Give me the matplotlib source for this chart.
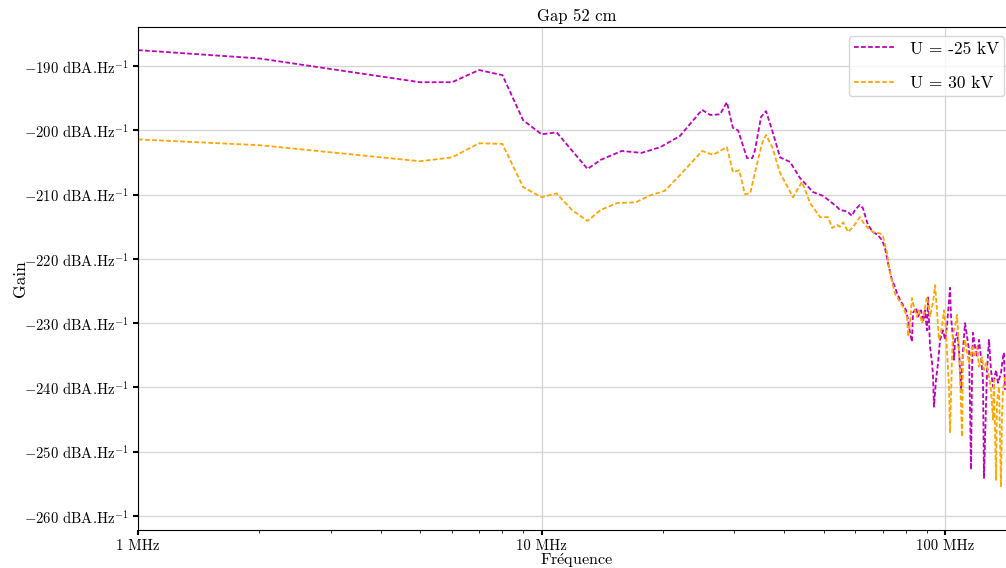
import matplotlib
matplotlib.use("Agg")
import matplotlib.pyplot as plt
from matplotlib.ticker import FixedLocator, FuncFormatter, LogLocator, NullFormatter

plt.rcParams["font.family"] = "serif"
plt.rcParams["font.serif"] = ["cmr10"]
plt.rcParams["mathtext.fontset"] = "cm"
plt.rcParams["axes.unicode_minus"] = False
plt.rcParams["axes.formatter.use_mathtext"] = True
plt.rcParams["font.size"] = 10

# frequency in MHz, gain in dBA/Hz
freq_neg = [1.0, 2.0, 5.0, 6.0, 7.0, 8.0, 9.0, 10.0, 10.9, 13.0, 14.0, 15.8, 17.7, 19.7,
            22.0, 25.0, 26.2, 27.7, 28.8, 29.8, 30.7, 32.3, 33.3, 33.8, 35.0, 36.0, 37.3,
            39.0, 41.3, 43.7, 47.1, 49.9, 54.0, 54.9, 57.2, 58.8, 59.8, 61.5, 62.6, 64.4,
            66.3, 68.2, 69.8, 71.0, 72.2, 73.9, 75.2, 76.0, 77.4, 78.7, 80.1, 81.0, 81.9,
            82.8, 83.3, 84.8, 85.7, 87.2, 88.2, 89.2, 90.2, 90.8, 91.8, 92.9, 93.4, 93.9,
            95.0, 96.1, 97.2, 98.9, 100.0, 101.1, 102.9, 103.5, 104.7, 105.3, 105.9, 107.1,
            108.3, 109.6, 110.8, 112.1, 113.4, 114.7, 116.0, 116.7, 117.3, 118.7, 120.0,
            121.4, 122.8, 124.2, 124.9, 126.4, 127.1, 128.5, 130.0, 131.5, 133.8, 135.3,
            137.6, 139.2, 140.0, 140.8]
gain_neg = [-187.5, -188.8, -192.5, -192.5, -190.6, -191.4, -198.4, -200.6, -200.3, -206.0,
            -204.6, -203.2, -203.5, -202.6, -200.9, -196.8, -197.6, -197.5, -195.6, -199.6,
            -200.0, -204.3, -204.3, -203.1, -197.9, -197.0, -200.0, -204.2, -204.9, -207.4,
            -209.6, -210.2, -211.9, -212.4, -212.6, -213.3, -212.4, -211.6, -212.1, -214.7,
            -215.8, -216.3, -217.1, -218.3, -220.6, -223.3, -224.4, -225.3, -226.4, -227.2,
            -228.0, -229.5, -231.5, -232.9, -228.4, -227.6, -229.0, -228.0, -229.8, -228.0,
            -231.1, -226.0, -233.7, -236.2, -238.4, -243.0, -238.8, -236.2, -232.6, -231.1,
            -232.6, -230.6, -224.5, -229.0, -232.6, -235.7, -232.6, -231.5, -234.2, -240.4,
            -234.2, -230.0, -232.1, -234.2, -252.8, -237.3, -231.5, -233.7, -235.3, -232.6,
            -235.3, -238.8, -254.1, -242.4, -237.3, -232.6, -237.3, -239.9, -237.3, -239.3,
            -237.8, -235.3, -234.6, -240.4]

freq_pos = [1.0, 2.0, 5.0, 6.0, 7.0, 8.0, 9.0, 10.0, 10.9, 11.9, 13.0, 14.0, 15.4, 17.1,
            18.6, 20.2, 22.0, 25.0, 26.6, 28.8, 29.8, 30.9, 31.9, 32.9, 33.8, 35.2, 36.0,
            37.3, 39.0, 42.0, 44.2, 46.3, 49.0, 51.3, 52.5, 54.0, 54.9, 55.9, 57.5, 59.2,
            61.5, 63.3, 65.2, 67.1, 69.0, 70.2, 71.8, 72.6, 73.9, 75.2, 76.0, 77.4, 78.7,
            80.5, 81.0, 81.9, 82.8, 83.8, 85.2, 86.2, 87.7, 88.7, 90.2, 90.8, 91.8, 93.4,
            94.5, 95.5, 96.6, 98.3, 99.4, 100.6, 101.1, 102.3, 102.9, 104.1, 104.7, 105.9,
            107.1, 108.3, 109.0, 110.2, 110.8, 112.1, 113.4, 114.7, 116.7, 118.0, 120.0,
            121.4, 123.5, 124.9, 126.4, 127.8, 130.0, 131.5, 132.2, 133.8, 134.5, 136.1,
            137.6, 138.4, 139.2, 140.8]
gain_pos = [-201.4, -202.3, -204.8, -204.2, -202.0, -202.1, -208.8, -210.4, -209.8, -212.4,
            -214.1, -212.4, -211.3, -211.2, -210.1, -209.4, -207.0, -203.2, -203.8, -202.6,
            -206.5, -206.2, -209.9, -209.8, -206.6, -202.0, -200.7, -202.6, -206.6, -210.4,
            -208.0, -211.3, -213.5, -213.5, -215.2, -214.7, -215.0, -214.3, -215.8, -215.0,
            -213.5, -214.7, -215.5, -216.0, -216.0, -216.5, -219.0, -221.3, -223.5, -225.5,
            -225.9, -226.7, -227.5, -229.0, -232.1, -230.0, -226.1, -227.5, -229.0, -228.0,
            -230.0, -228.4, -225.9, -226.9, -229.0, -226.7, -224.1, -228.0, -232.6, -230.6,
            -228.0, -231.1, -234.2, -239.9, -247.1, -235.3, -231.5, -230.6, -228.7, -234.2,
            -238.8, -247.7, -235.3, -232.6, -234.6, -236.2, -233.7, -235.3, -233.7, -236.8,
            -235.3, -237.3, -236.2, -237.3, -240.4, -245.0, -238.8, -254.4, -242.4, -239.9,
            -255.5, -244.6, -240.4, -238.4]

y_ticks = [-190, -200, -210, -220, -230, -240, -250, -260]
x_ticks = [1, 10, 100]
x_tick_labels = ["1 MHz", "10 MHz", "100 MHz"]

fig = plt.figure(figsize=(10.06, 5.68), dpi=100)
# the axes run a little past the right edge, as in the cropped original
ax = fig.add_axes([0.1372, 0.0669, 0.8728, 0.8856])

ax.plot(freq_neg, gain_neg, linestyle=(0, (2.6, 1.3)), color="m", linewidth=1.3, label="U = -25 kV")
ax.plot(freq_pos, gain_pos, linestyle=(0, (2.6, 1.3)), color="orange", linewidth=1.3, label="U = 30 kV")

ax.set_xscale("log")
ax.set_xlim(1, 150)
ax.set_ylim(-262.2, -183.9)

ax.xaxis.set_major_locator(FixedLocator(x_ticks))
ax.xaxis.set_major_formatter(FuncFormatter(lambda v, p: x_tick_labels[x_ticks.index(round(v))] if round(v) in x_ticks else ""))
ax.xaxis.set_minor_locator(LogLocator(base=10, subs=range(2, 10)))
ax.xaxis.set_minor_formatter(NullFormatter())

ax.yaxis.set_major_locator(FixedLocator(y_ticks))
ax.yaxis.set_major_formatter(FuncFormatter(lambda v, p: r"$-%d$ dBA.Hz$^{-1}$" % abs(round(v))))

ax.tick_params(which="major", length=3.5, width=1.5, direction="out", labelsize=10.6)
ax.tick_params(which="minor", length=2, width=0.6)

ax.grid(True, which="major", color="#d4d4d4", linewidth=0.9)
ax.set_axisbelow(True)

ax.set_title("Gap 52 cm", fontsize=12, pad=4)
ax.set_xlabel(r"Fr$\mathrm{\acute{e}}$quence", fontsize=11.6, labelpad=-1.8)
ax.set_ylabel("Gain", fontsize=12.5, labelpad=-3)

ax.legend(loc="upper right", fontsize=12.5, handlelength=2.4, labelspacing=1.1,
          borderpad=0.3, borderaxespad=0, bbox_to_anchor=(0.9863, 0.982))

fig.savefig("out.png", dpi=100)
